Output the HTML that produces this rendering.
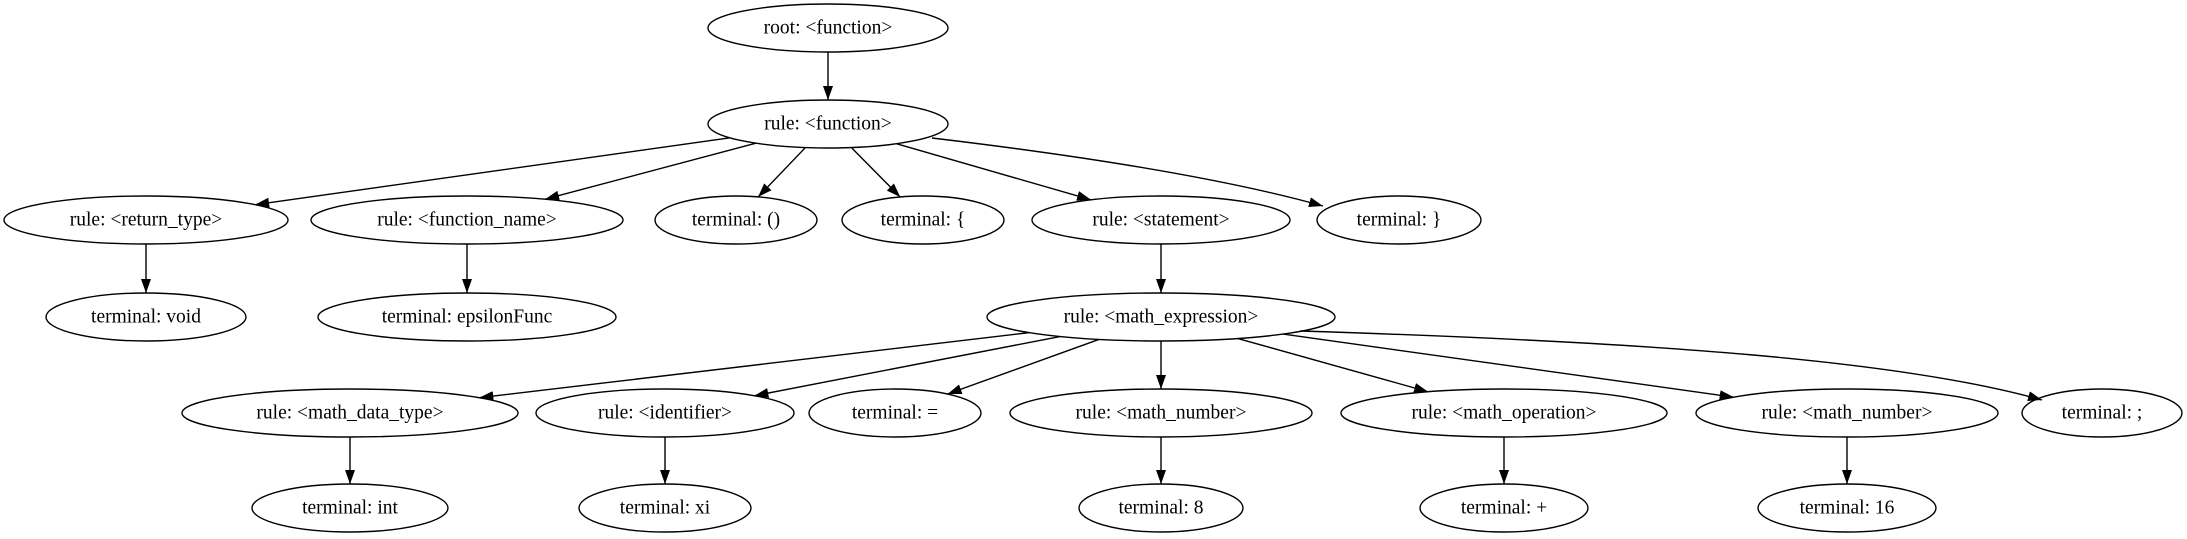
<!DOCTYPE html>
<html><head><meta charset="utf-8"><style>
html,body{margin:0;padding:0;background:#fff;}
svg{display:block}
text{font-family:"Liberation Serif",serif;font-size:19.5px;fill:#000;text-anchor:middle;dominant-baseline:central}
ellipse{fill:none;stroke:#000;stroke-width:1.4}
line,path.e{stroke:#000;stroke-width:1.4;fill:none}
</style></head><body>
<svg id="s" width="2187" height="539" viewBox="0 0 2187 539" xmlns="http://www.w3.org/2000/svg">
<defs><marker id="a" markerWidth="14" markerHeight="10" refX="14" refY="5" orient="auto" markerUnits="userSpaceOnUse"><path d="M0,0 L14,5 L0,10 Z" fill="#000"/></marker></defs>
<g id="g"></g>
<path class="e" d="M1300,331 C1650,342 1900,360 2042,400" marker-end="url(#a)"/>
<path class="e" d="M932,138 C1100,158 1230,180 1323,206" marker-end="url(#a)"/>
</svg>
<script>
var N={
root:[828,28,120,"root: <function>"],
fn:[828,124,120,"rule: <function>"],
rt:[146,220,142,"rule: <return_type>"],
fnm:[467,220,156,"rule: <function_name>"],
par:[736,220,81,"terminal: ()"],
lb:[923,220,81,"terminal: {"],
st:[1161,220,129,"rule: <statement>"],
rb:[1399,220,82,"terminal: }"],
vo:[146,317,100,"terminal: void"],
ep:[467,317,149,"terminal: epsilonFunc"],
me:[1161,317,174,"rule: <math_expression>"],
mdt:[350,413,168,"rule: <math_data_type>"],
id:[665,413,129,"rule: <identifier>"],
eq:[895,413,86,"terminal: ="],
mn1:[1161,413,151,"rule: <math_number>"],
mo:[1504,413,163,"rule: <math_operation>"],
mn2:[1847,413,151,"rule: <math_number>"],
sc:[2102,413,80,"terminal: ;"],
int:[350,508,98,"terminal: int"],
xi:[665,508,86,"terminal: xi"],
n8:[1161,508,82,"terminal: 8"],
pl:[1504,508,84,"terminal: +"],
n16:[1847,508,89,"terminal: 16"]};
var RY=24;
var E=[["root","fn"],["fn","rt"],["fn","fnm"],["fn","par"],["fn","lb"],["fn","st"],["rt","vo"],["fnm","ep"],["st","me"],["me","mdt"],["me","id"],["me","eq"],["me","mn1"],["me","mo"],["me","mn2"],["mdt","int"],["id","xi"],["mn1","n8"],["mo","pl"],["mn2","n16"]];
var g=document.getElementById("g"),ns="http://www.w3.org/2000/svg";
function bd(n,dx,dy){var rx=n[2],t=1/Math.sqrt(dx*dx/(rx*rx)+dy*dy/(RY*RY));return[n[0]+dx*t,n[1]+dy*t];}
E.forEach(function(e){var a=N[e[0]],b=N[e[1]],dx=b[0]-a[0],dy=b[1]-a[1];
var p=bd(a,dx,dy),q=bd(b,-dx,-dy);var l=document.createElementNS(ns,"line");
l.setAttribute("x1",p[0]);l.setAttribute("y1",p[1]);l.setAttribute("x2",q[0]);l.setAttribute("y2",q[1]);l.setAttribute("marker-end","url(#a)");g.appendChild(l);});
for(var k in N){var n=N[k];var el=document.createElementNS(ns,"ellipse");el.setAttribute("cx",n[0]);el.setAttribute("cy",n[1]);el.setAttribute("rx",n[2]);el.setAttribute("ry",RY);g.appendChild(el);
var t=document.createElementNS(ns,"text");t.setAttribute("x",n[0]);t.setAttribute("y",n[1]);t.textContent=n[3];g.appendChild(t);}
</script>
</body></html>
